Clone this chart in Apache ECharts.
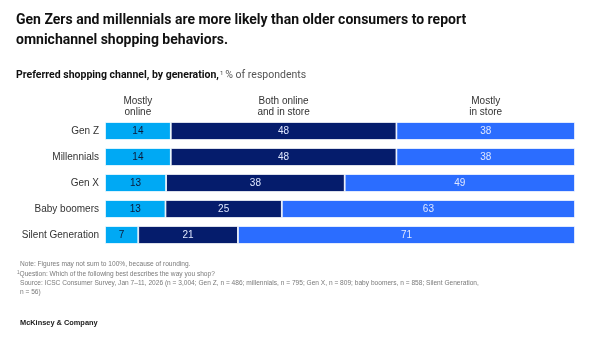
<!DOCTYPE html>
<html>
<head>
<meta charset="utf-8">
<script src="https://cdn.jsdelivr.net/npm/echarts@6/dist/echarts.min.js"></script>
<style>
  html, body { margin: 0; padding: 0; background: #fff; }
  #chart { width: 605px; height: 339px; }
</style>
</head>
<body>
<div id="chart"></div>
<script>
// Preferred shopping channel by generation, % of respondents
const generations = ['Gen Z', 'Millennials', 'Gen X', 'Baby boomers', 'Silent Generation'];
const channelNames = ['Mostly\nonline', 'Both online\nand in store', 'Mostly\nin store'];
const mostlyOnline = [14, 14, 13, 13, 7];
const bothChannels = [48, 48, 38, 25, 21];
const mostlyInStore = [38, 38, 49, 63, 71];

const FONT = '"Liberation Sans", Arial, sans-serif';
const HEAD_FONT = 'Roboto, "Liberation Sans", Arial, sans-serif';
const valueSets = [mostlyOnline, bothChannels, mostlyInStore];
const colors = ['#00A9F4', '#051C6C', '#2B6DFF'];
const labelColors = ['#0b1a3a', '#dfe7ff', '#dfe7ff'];

// Rows may not sum exactly to 100 because of rounding; each bar fills the full row
const rowTotals = generations.map((_, i) => valueSets.reduce((s, arr) => s + arr[i], 0));
const share = (arr, i) => arr[i] / rowTotals[i] * 100;

const series = valueSets.map((arr, k) => ({
  name: channelNames[k],
  type: 'bar',
  stack: 'channel',
  barWidth: 18,
  data: arr.map((v, i) => ({ value: share(arr, i), raw: v })),
  itemStyle: { color: colors[k], borderColor: '#ffffff', borderWidth: 0.8 },
  label: {
    show: true,
    position: 'inside',
    fontFamily: FONT,
    fontSize: 10,
    color: labelColors[k],
    formatter: p => String(p.data.raw)
  },
  emphasis: { disabled: true }
}));

// Column headings, centred over the first row's segments
valueSets.forEach((arr, k) => {
  series.push({
    name: 'hdr' + k,
    type: 'bar',
    stack: 'header',
    barWidth: 18,
    barGap: '-100%',
    data: arr.map((v, i) => (i === 0 ? share(arr, i) : '-')),
    itemStyle: { color: 'rgba(0,0,0,0)' },
    label: {
      show: true,
      position: 'top',
      distance: 4,
      fontFamily: FONT,
      fontSize: 10,
      lineHeight: 11,
      color: '#333333',
      align: 'center',
      formatter: () => channelNames[k]
    },
    silent: true,
    z: 1
  });
});

const chart = echarts.init(document.getElementById('chart'), null, { renderer: 'canvas' });
chart.setOption({
  animation: false,
  backgroundColor: '#ffffff',
  title: [
    {
      text: 'Gen Zers and millennials are more likely than older consumers to report\nomnichannel shopping behaviors.',
      left: 16,
      top: 10,
      padding: 0,
      textStyle: { fontFamily: HEAD_FONT, fontSize: 14, fontWeight: 'bold', color: '#111111', lineHeight: 20 }
    },
    {
      text: '{b|Preferred shopping channel, by generation,}{s|1}{r|% of respondents}',
      left: 16,
      top: 70,
      padding: 0,
      textStyle: {
        fontWeight: 'normal',
        rich: {
          b: { fontFamily: HEAD_FONT, fontSize: 10.5, fontWeight: 'bold', color: '#111111' },
          s: { fontFamily: HEAD_FONT, fontSize: 6, fontWeight: 'normal', color: '#444444', verticalAlign: 'top', padding: [0, 2, 5, 1] },
          r: { fontFamily: HEAD_FONT, fontSize: 10.5, fontWeight: 'normal', color: '#555555' }
        }
      }
    }
  ],
  grid: { left: 105, right: 30, top: 118, bottom: 91, containLabel: false },
  xAxis: { type: 'value', min: 0, max: 100, show: false },
  yAxis: {
    type: 'category',
    data: generations,
    inverse: true,
    axisLine: { show: false },
    axisTick: { show: false },
    axisLabel: { fontFamily: FONT, fontSize: 10, color: '#333333', margin: 6 }
  },
  series: series,
  graphic: [
    {
      type: 'text',
      left: 20,
      top: 261,
      style: {
        text: 'Note: Figures may not sum to 100%, because of rounding.',
        font: '6.6px ' + FONT,
        fill: '#7a7a7a'
      }
    },
    {
      type: 'text',
      left: 17,
      top: 270,
      style: {
        text: '{s|1}Question: Which of the following best describes the way you shop?',
        font: '6.6px ' + FONT,
        fill: '#7a7a7a',
        rich: { s: { fontSize: 4.5, verticalAlign: 'top', fill: '#7a7a7a', padding: [0, 0, 3, 0] } }
      }
    },
    {
      type: 'text',
      left: 20,
      top: 279,
      style: {
        text: 'Source: ICSC Consumer Survey, Jan 7\u201311, 2026 (n = 3,004; Gen Z, n = 486; millennials, n = 795; Gen X, n = 809; baby boomers, n = 858; Silent Generation,\nn = 56)',
        font: '6.6px ' + FONT,
        fill: '#7a7a7a',
        lineHeight: 8.5
      }
    },
    {
      type: 'text',
      left: 20,
      top: 319,
      style: {
        text: 'McKinsey & Company',
        font: 'bold 7.4px ' + FONT,
        fill: '#1a1a1a'
      }
    }
  ]
});
</script>
</body>
</html>
